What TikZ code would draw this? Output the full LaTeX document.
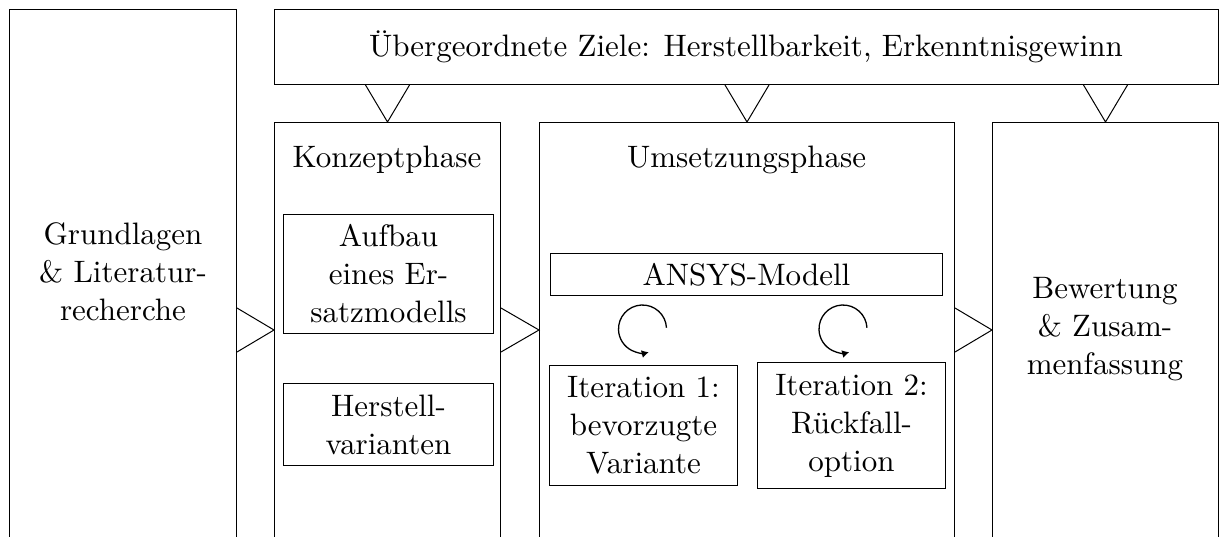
\documentclass[tikz,border=0pt]{standalone}
\usepackage{fontspec}
\setmainfont{lmroman10-regular.otf}
\usetikzlibrary{calc,arrows.meta}
\begin{document}
\begin{tikzpicture}[x=1pt,y=-1pt,
  every node/.style={font=\fontsize{31pt}{38pt}\selectfont},
  box/.style={draw,line width=1pt,rectangle,inner sep=0pt,anchor=north west},
  txt/.style={align=center,inner sep=0pt},
  conn/.style={draw,line width=1pt,line join=miter},
  loop/.style={line width=1.3pt,-{Latex[length=7pt,width=8pt]}}]
\useasboundingbox (0,0) rectangle (1220,536);
\clip (0,0) rectangle (1220,536);
% big boxes
\node[box,minimum width=227pt,minimum height=600pt] (grund) at (9,9) {};
\node[txt] (grundt) at (123,272) {Grundlagen\\\& Literatur-\\recherche};
\node[box,minimum width=944pt,minimum height=75pt] (ziele) at (274,9) {};
\node[txt] (zielet) at (746,47) {Übergeordnete Ziele: Herstellbarkeit, Erkenntnisgewinn};
\node[box,minimum width=226pt,minimum height=500pt] (konzept) at (274,122) {};
\node[txt] (konzeptt) at (387,160) {Konzeptphase};
\node[box,minimum width=415pt,minimum height=500pt] (umsetz) at (539,122) {};
\node[txt] (umsetzt) at (746.5,160) {Umsetzungsphase};
\node[box,minimum width=226pt,minimum height=500pt] (bewert) at (992,122) {};
\node[txt] (bewertt) at (1105,329) {Bewertung\\\& Zusam-\\menfassung};
% inner boxes
\node[box,minimum width=210pt,minimum height=119pt] (aufbau) at (283,214) {};
\node[txt] (aufbaut) at (aufbau.center) {Aufbau\\eines Er-\\satzmodells};
\node[box,minimum width=210pt,minimum height=82pt] (herstell) at (283,383) {};
\node[txt] (herstellt) at (herstell.center) {Herstell-\\varianten};
\node[box,minimum width=392pt,minimum height=42pt] (ansys) at (550,253) {};
\node[txt] (ansyst) at (ansys.center) {ANSYS-Modell};
\node[box,minimum width=188pt,minimum height=120pt] (iter1) at (549,365) {};
\node[txt] (iter1t) at (iter1.center) {Iteration 1:\\bevorzugte\\Variante};
\node[box,minimum width=188pt,minimum height=126pt] (iter2) at (757,362) {};
\node[txt] (iter2t) at (iter2.center) {Iteration 2:\\Rückfall-\\option};
% loops
\coordinate (l1) at (642.5,329);
\coordinate (l2) at (843,329);
\draw[loop] ([shift={(3:24pt)}]l1) arc[start angle=3,end angle=285,radius=24pt];
\draw[loop] ([shift={(3:24pt)}]l2) arc[start angle=3,end angle=285,radius=24pt];
% triangle connectors (horizontal)
\coordinate (trow) at (0,330);
\draw[conn] ($(grund.east |- trow)+(0,-22)$) -- (konzept.west |- trow) -- ($(grund.east |- trow)+(0,22)$);
\draw[conn] ($(konzept.east |- trow)+(0,-22)$) -- (umsetz.west |- trow) -- ($(konzept.east |- trow)+(0,22)$);
\draw[conn] ($(umsetz.east |- trow)+(0,-22)$) -- (bewert.west |- trow) -- ($(umsetz.east |- trow)+(0,22)$);
% triangle connectors (vertical)
\draw[conn] ($(ziele.south -| konzept.north)+(-22,0)$) -- (konzept.north) -- ($(ziele.south -| konzept.north)+(22,0)$);
\draw[conn] ($(ziele.south -| umsetz.north)+(-22,0)$) -- (umsetz.north) -- ($(ziele.south -| umsetz.north)+(22,0)$);
\draw[conn] ($(ziele.south -| bewert.north)+(-22,0)$) -- (bewert.north) -- ($(ziele.south -| bewert.north)+(22,0)$);
\end{tikzpicture}
\end{document}
